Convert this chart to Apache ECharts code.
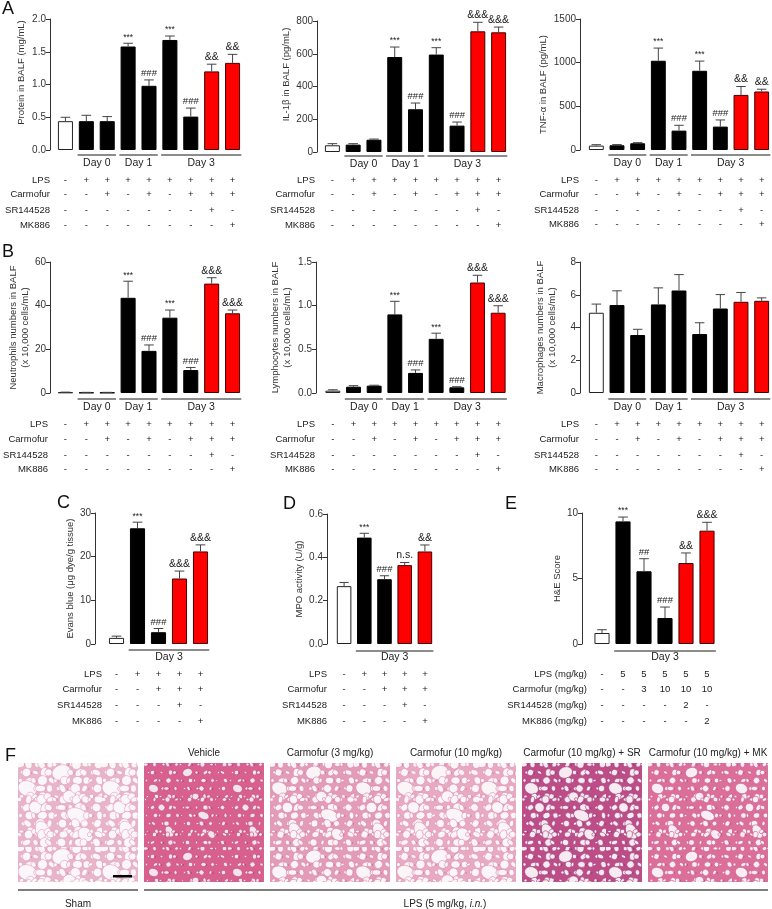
<!DOCTYPE html>
<html>
<head>
<meta charset="utf-8">
<script src="https://cdn.jsdelivr.net/npm/echarts@6/dist/echarts.min.js"></script>
<style>
html, body { margin: 0; padding: 0; background: #fff; }
#main { width: 772px; height: 909px; }
</style>
</head>
<body>
<div id="main"></div>
<script>
// ---- categories / table rows ----
var categoriesAB = ['Sham', 'LPS D0', 'LPS+Carm D0', 'LPS D1', 'LPS+Carm D1', 'LPS D3', 'LPS+Carm D3', 'LPS+Carm+SR D3', 'LPS+Carm+MK D3'];
var lpsAB      = ['-', '+', '+', '+', '+', '+', '+', '+', '+'];
var carmofurAB = ['-', '-', '+', '-', '+', '-', '+', '+', '+'];
var srAB       = ['-', '-', '-', '-', '-', '-', '-', '+', '-'];
var mkAB       = ['-', '-', '-', '-', '-', '-', '-', '-', '+'];
var groupsAB   = [['Day 0', 1, 2], ['Day 1', 3, 4], ['Day 3', 5, 8]];

var categoriesCD = ['Sham', 'LPS', 'LPS+Carm', 'LPS+Carm+SR', 'LPS+Carm+MK'];
var lpsCD      = ['-', '+', '+', '+', '+'];
var carmofurCD = ['-', '-', '+', '+', '+'];
var srCD       = ['-', '-', '-', '+', '-'];
var mkCD       = ['-', '-', '-', '-', '+'];
var groupsCD   = [['Day 3', 1, 4]];

var categoriesE = ['Sham', 'LPS', 'Carm 3', 'Carm 10', 'Carm 10+SR', 'Carm 10+MK'];
var lpsE      = ['-', '5', '5', '5', '5', '5'];
var carmofurE = ['-', '-', '3', '10', '10', '10'];
var srE       = ['-', '-', '-', '-', '2', '-'];
var mkE       = ['-', '-', '-', '-', '-', '2'];
var groupsE   = [['Day 3', 1, 5]];

// ---- values (mean, SEM, significance) ----
var proteinMean = [0.44, 0.44, 0.44, 1.58, 0.98, 1.68, 0.51, 1.20, 1.33];
var proteinErr  = [0.06, 0.09, 0.07, 0.05, 0.09, 0.06, 0.13, 0.11, 0.13];
var proteinSig  = ['', '', '', '***', '###', '***', '###', '&&', '&&'];

var il1bMean = [41, 45, 75, 580, 261, 595, 161, 737, 731];
var il1bErr  = [10, 6, 4, 61, 38, 42, 22, 55, 32];
var il1bSig  = ['', '', '', '***', '###', '***', '###', '&&&', '&&&'];

var tnfMean = [50, 54, 77, 1022, 222, 907, 268, 631, 670];
var tnfErr  = [11, 8, 7, 145, 61, 111, 76, 96, 26];
var tnfSig  = ['', '', '', '***', '###', '***', '###', '&&', '&&'];

var neutroMean = [0.3, 0.2, 0.2, 43.6, 19.3, 34.5, 10.5, 50.1, 36.5];
var neutroErr  = [0.1, 0.1, 0.1, 7.6, 2.7, 3.5, 1.2, 2.7, 1.5];
var neutroSig  = ['', '', '', '***', '###', '***', '###', '&&&', '&&&'];

var lymphoMean = [0.027, 0.072, 0.084, 0.90, 0.23, 0.62, 0.065, 1.265, 0.919];
var lymphoErr  = [0.010, 0.012, 0.005, 0.15, 0.034, 0.065, 0.007, 0.083, 0.080];
var lymphoSig  = ['', '', '', '***', '###', '***', '###', '&&&', '&&&'];

var macroMean = [4.90, 5.37, 3.54, 5.41, 6.26, 3.60, 5.16, 5.57, 5.63];
var macroErr  = [0.53, 0.87, 0.35, 1.01, 0.97, 0.69, 0.85, 0.57, 0.18];
var macroSig  = ['', '', '', '', '', '', '', '', ''];

var evansMean = [1.4, 26.5, 2.7, 15.0, 21.2];
var evansErr  = [0.4, 1.4, 0.85, 1.7, 1.5];
var evansSig  = ['', '***', '###', '&&&', '&&&'];

var mpoMean = [0.267, 0.491, 0.299, 0.364, 0.427];
var mpoErr  = [0.017, 0.020, 0.016, 0.012, 0.030];
var mpoSig  = ['', '***', '###', 'n.s.', '&&'];

var heMean = [0.84, 9.36, 5.55, 1.98, 6.18, 8.65];
var heErr  = [0.25, 0.33, 0.96, 0.84, 0.77, 0.64];
var heSig  = ['', '***', '##', '###', '&&', '&&&'];

var tickAB = ['LPS', 'Carmofur', 'SR144528', 'MK886'];
var tickE  = ['LPS (mg/kg)', 'Carmofur (mg/kg)', 'SR144528 (mg/kg)', 'MK886 (mg/kg)'];

var histoTitles = ['', 'Vehicle', 'Carmofur (3 mg/kg)', 'Carmofur (10 mg/kg)', 'Carmofur (10 mg/kg) + SR', 'Carmofur (10 mg/kg) + MK'];

// ---- layout ----
var FONT = 'Liberation Sans, Arial, Helvetica, sans-serif';
var INK = '#222';
var AXIS = '#333';
var FS = 9.5;

var rowsAB = [lpsAB, carmofurAB, srAB, mkAB];
var rowsCD = [lpsCD, carmofurCD, srCD, mkCD];
var rowsE  = [lpsE, carmofurE, srE, mkE];

var panels = [
  { mean: proteinMean, err: proteinErr, sig: proteinSig, cats: categoriesAB, rows: rowsAB, names: tickAB, groups: groupsAB,
    grid: { left: 55, top: 19, width: 188, height: 131 }, yOff: 5, max: 2, step: 0.5, dec: 1,
    name: 'Protein in BALF (mg/mL)', nameGap: 23, shift: 24, rowGap: 5, rowOff: [30, 44.5, 60, 75], grpOff: [5, 13] },
  { mean: il1bMean, err: il1bErr, sig: il1bSig, cats: categoriesAB, rows: rowsAB, names: tickAB, groups: groupsAB,
    grid: { left: 322, top: 21, width: 187, height: 131 }, yOff: 5, max: 800, step: 200, dec: 0,
    name: 'IL-1β in BALF (pg/mL)', nameGap: 24, shift: 24, rowGap: 7, rowOff: [28, 42.5, 58, 73], grpOff: [4, 12] },
  { mean: tnfMean, err: tnfErr, sig: tnfSig, cats: categoriesAB, rows: rowsAB, names: tickAB, groups: groupsAB,
    grid: { left: 586, top: 19, width: 189, height: 131 }, yOff: 6, max: 1500, step: 500, dec: 0,
    name: 'TNF-α in BALF (pg/mL)', nameGap: 30, shift: 0, rowGap: 7, rowOff: [30, 44.5, 60, 74.5], grpOff: [5, 13] },
  { mean: neutroMean, err: neutroErr, sig: neutroSig, cats: categoriesAB, rows: rowsAB, names: tickAB, groups: groupsAB,
    grid: { left: 55, top: 262, width: 188, height: 131 }, yOff: 5, max: 60, step: 20, dec: 0,
    name: 'Neutrophils numbers in BALF\n(x 10,000 cells/mL)', nameGap: 19, shift: 0, rowGap: 7, rowOff: [31, 46, 62, 76.5], grpOff: [6, 14] },
  { mean: lymphoMean, err: lymphoErr, sig: lymphoSig, cats: categoriesAB, rows: rowsAB, names: tickAB, groups: groupsAB,
    grid: { left: 322.5, top: 262, width: 186, height: 131 }, yOff: 6.5, max: 1.5, step: 0.5, dec: 1,
    name: 'Lymphocytes numbers in BALF\n(x 10,000 cells/mL)', nameGap: 23, shift: 0, rowGap: 7.5, rowOff: [31, 46, 62, 76.5], grpOff: [6, 14] },
  { mean: macroMean, err: macroErr, sig: macroSig, cats: categoriesAB, rows: rowsAB, names: tickAB, groups: groupsAB,
    grid: { left: 586, top: 262, width: 189, height: 131 }, yOff: 6, max: 8, step: 2, dec: 0,
    name: 'Macrophages numbers in BALF\n(x 10,000 cells/mL)', nameGap: 22, shift: 0, rowGap: 7, rowOff: [31, 46, 62, 76.5], grpOff: [6, 14] },
  { mean: evansMean, err: evansErr, sig: evansSig, cats: categoriesCD, rows: rowsCD, names: tickAB, groups: groupsCD,
    grid: { left: 106, top: 513, width: 105, height: 131 }, yOff: 11, max: 30, step: 10, dec: 0,
    name: 'Evans blue (μg dye/g tissue)', nameGap: 13, shift: 0, rowGap: 4, rowOff: [30, 45, 61, 77], grpOff: [6, 13] },
  { mean: mpoMean, err: mpoErr, sig: mpoSig, cats: categoriesCD, rows: rowsCD, names: tickAB, groups: groupsCD,
    grid: { left: 334, top: 514, width: 101, height: 130 }, yOff: 7, max: 0.6, step: 0.2, dec: 1,
    name: 'MPO activity (U/g)', nameGap: 22, shift: 0, rowGap: 7, rowOff: [30, 45, 61, 77], grpOff: [7, 13] },
  { mean: heMean, err: heErr, sig: heSig, cats: categoriesE, rows: rowsE, names: tickE, groups: groupsE,
    grid: { left: 591.5, top: 513, width: 126, height: 131 }, yOff: 9.5, max: 10, step: 5, dec: 0,
    name: 'H&E Score', nameGap: 19, shift: 0, rowGap: 4.5, rowOff: [30, 45, 61, 77], grpOff: [7, 13] }
];

function barStyle(i, n) {
  if (i === 0) return { color: '#fff', borderColor: '#222', borderWidth: 1 };
  if (i >= n - 2) return { color: '#ff0000', borderColor: '#400', borderWidth: 1 };
  return { color: '#000', borderColor: '#000', borderWidth: 1 };
}

function errRenderer(sig) {
  return function (params, api) {
    var i = api.value(0), m = api.value(1), e = api.value(2);
    var base = api.coord([i, m]), top = api.coord([i, m + e]);
    var w = api.size([1, 0])[0] * 0.46;
    var kids = [
      { type: 'line', shape: { x1: base[0], y1: base[1], x2: top[0], y2: top[1] }, style: { stroke: '#444', lineWidth: 1 } },
      { type: 'line', shape: { x1: top[0] - w / 2, y1: top[1], x2: top[0] + w / 2, y2: top[1] }, style: { stroke: '#444', lineWidth: 1 } }
    ];
    var s = sig[params.dataIndex];
    if (s) {
      var fs = s.charAt(0) === '*' ? 8.5 : (s.charAt(0) === '#' ? 9.5 : 10.5);
      kids.push({ type: 'text', x: top[0], y: top[1] - 1.5,
        style: { text: s, align: 'center', verticalAlign: 'bottom', font: fs + 'px ' + FONT, fill: INK } });
    }
    return { type: 'group', children: kids };
  };
}

function groupRenderer(groups, off) {
  return function (params, api) {
    var a = api.coord([api.value(0), 0]), b = api.coord([api.value(1), 0]);
    var half = api.size([1, 0])[0] * 0.42;
    var y = a[1];
    return { type: 'group', children: [
      { type: 'line', shape: { x1: a[0] - half, y1: y + off[0], x2: b[0] + half, y2: y + off[0] }, style: { stroke: '#666', lineWidth: 1.5 } },
      { type: 'text', x: (a[0] + b[0]) / 2, y: y + off[1],
        style: { text: groups[params.dataIndex][0], align: 'center', verticalAlign: 'middle', font: '10.5px ' + FONT, fill: INK } }
    ] };
  };
}

var option = { animation: false, backgroundColor: '#fff', textStyle: { fontFamily: FONT },
  grid: [], xAxis: [], yAxis: [], series: [], graphic: [] };

panels.forEach(function (P, g) {
  option.grid.push(P.grid);
  var xMain = option.xAxis.length;
  option.xAxis.push({ gridIndex: g, type: 'category', data: P.cats,
    axisLine: { show: false }, axisTick: { show: false }, axisLabel: { show: false } });
  P.rows.forEach(function (row, r) {
    option.xAxis.push({ gridIndex: g, type: 'category', data: row, position: 'bottom', offset: P.rowOff[r],
      axisLine: { show: false }, axisTick: { show: false },
      axisLabel: { interval: 0, margin: 0, verticalAlign: 'middle', fontSize: FS, color: INK, fontFamily: FONT },
      name: P.names[r], nameLocation: 'start', nameGap: P.rowGap,
      nameTextStyle: { fontSize: FS, color: INK, fontFamily: FONT, verticalAlign: 'middle' } });
  });
  option.yAxis.push({ gridIndex: g, type: 'value', min: 0, max: P.max, interval: P.step, offset: P.yOff,
    axisLine: { show: true, lineStyle: { color: AXIS, width: 1 } },
    axisTick: { show: true, length: 4, lineStyle: { color: AXIS } },
    splitLine: { show: false },
    axisLabel: { fontSize: 10, color: AXIS, margin: 4, fontFamily: FONT,
      formatter: function (v) { return v.toFixed(P.dec); } },
    name: P.name, nameLocation: 'middle', nameGap: P.nameGap, nameRotate: 90,
    nameTextStyle: { fontSize: 9.5, color: AXIS, fontFamily: FONT, lineHeight: 12,
      padding: [0, 0, 0, P.shift] } });
  option.series.push({ type: 'bar', xAxisIndex: xMain, yAxisIndex: g, barCategoryGap: '28%',
    data: P.mean.map(function (v, i) { return { value: v, itemStyle: barStyle(i, P.mean.length) }; }) });
  option.series.push({ type: 'custom', xAxisIndex: xMain, yAxisIndex: g, z: 5,
    renderItem: errRenderer(P.sig), encode: { x: 0, y: 1 },
    data: P.mean.map(function (v, i) { return [i, v, P.err[i]]; }) });
  option.series.push({ type: 'custom', xAxisIndex: xMain, yAxisIndex: g, z: 5,
    renderItem: groupRenderer(P.groups, P.grpOff), encode: { x: 0 },
    data: P.groups.map(function (d) { return [d[1], d[2]]; }) });
});

// panel letters
[['A', 2, 9], ['B', 2, 252], ['C', 57, 503], ['D', 283, 504], ['E', 505, 504], ['F', 5, 756]].forEach(function (t) {
  option.graphic.push({ type: 'text', x: t[1], y: t[2],
    style: { text: t[0], font: '18px ' + FONT, fill: '#111', verticalAlign: 'middle' } });
});

// ---- panel F: histology placeholders (tissue-like texture) ----
function tissue(base, wall, hole, size, dot) {
  var c = document.createElement('canvas');
  c.width = 84; c.height = 84;
  var x = c.getContext('2d');
  x.fillStyle = base; x.fillRect(0, 0, 84, 84);
  for (var i = 0; i < 12; i++) {
    for (var j = 0; j < 12; j++) {
      var cx = i * 7 + 3.5 + ((i * 7 + j * 3) % 5) - 2;
      var cy = j * 7 + 3.5 + ((i * 5 + j * 11) % 5) - 2;
      var r = size * (1 + ((i * 3 + j * 5) % 5) * 0.3);
      if ((i * 13 + j * 7) % 17 === 0) r *= 2.2;
      x.fillStyle = hole;
      x.beginPath();
      x.ellipse(cx, cy, r, r * (0.65 + ((i + j) % 3) * 0.15), (i * 2 + j) * 0.7, 0, Math.PI * 2);
      x.fill();
      x.strokeStyle = wall; x.lineWidth = 0.6; x.stroke();
      if ((i + j * 2) % 3 === 0) { x.fillStyle = dot; x.fillRect(cx + r, cy, 1, 1); }
    }
  }
  return c;
}
var tissueStyles = [
  tissue('#e8b4c8', '#e29ab7', '#fbf7f9', 2.3, '#c77aa0'),
  tissue('#d9608e', '#b8447a', '#f6e4ec', 1.2, '#8e3a78'),
  tissue('#e39cb8', '#d9799f', '#fbf4f7', 1.9, '#b45c8e'),
  tissue('#e8aac2', '#de86a9', '#fbf5f8', 2.1, '#b86b96'),
  tissue('#bd4c87', '#9c3a78', '#f7eaf0', 1.7, '#6f2a6a'),
  tissue('#dc6f9a', '#c8568a', '#f9eef3', 1.5, '#a2457f')
];
var histoLeft = [18, 144, 270, 396, 522, 648];
histoLeft.forEach(function (l, k) {
  option.graphic.push({ type: 'rect', x: l, y: 763, shape: { width: 120, height: 119 },
    style: { fill: { image: tissueStyles[k], repeat: 'repeat' } } });
  if (histoTitles[k]) {
    option.graphic.push({ type: 'text', x: l + 60, y: 753, style: { text: histoTitles[k],
      font: '10px ' + FONT, fill: INK, align: 'center', verticalAlign: 'middle' } });
  }
});
option.graphic.push({ type: 'rect', x: 113, y: 875, shape: { width: 19, height: 2.5 }, style: { fill: '#000' } });
option.graphic.push({ type: 'line', shape: { x1: 18, y1: 890, x2: 138, y2: 890 }, style: { stroke: '#555', lineWidth: 1.5 } });
option.graphic.push({ type: 'line', shape: { x1: 144, y1: 890, x2: 768, y2: 890 }, style: { stroke: '#555', lineWidth: 1.5 } });
option.graphic.push({ type: 'text', x: 78, y: 904, style: { text: 'Sham', font: '10px ' + FONT, fill: INK, align: 'center', verticalAlign: 'middle' } });
option.graphic.push({ type: 'text', x: 445, y: 904, style: {
  text: '{n|LPS (5 mg/kg, }{i|i.n.}{n|)}', align: 'center', verticalAlign: 'middle',
  rich: { n: { font: '10px ' + FONT, fill: INK }, i: { font: 'italic 10px ' + FONT, fill: INK } } } });

var chart = echarts.init(document.getElementById('main'));
chart.setOption(option);
</script>
</body>
</html>
